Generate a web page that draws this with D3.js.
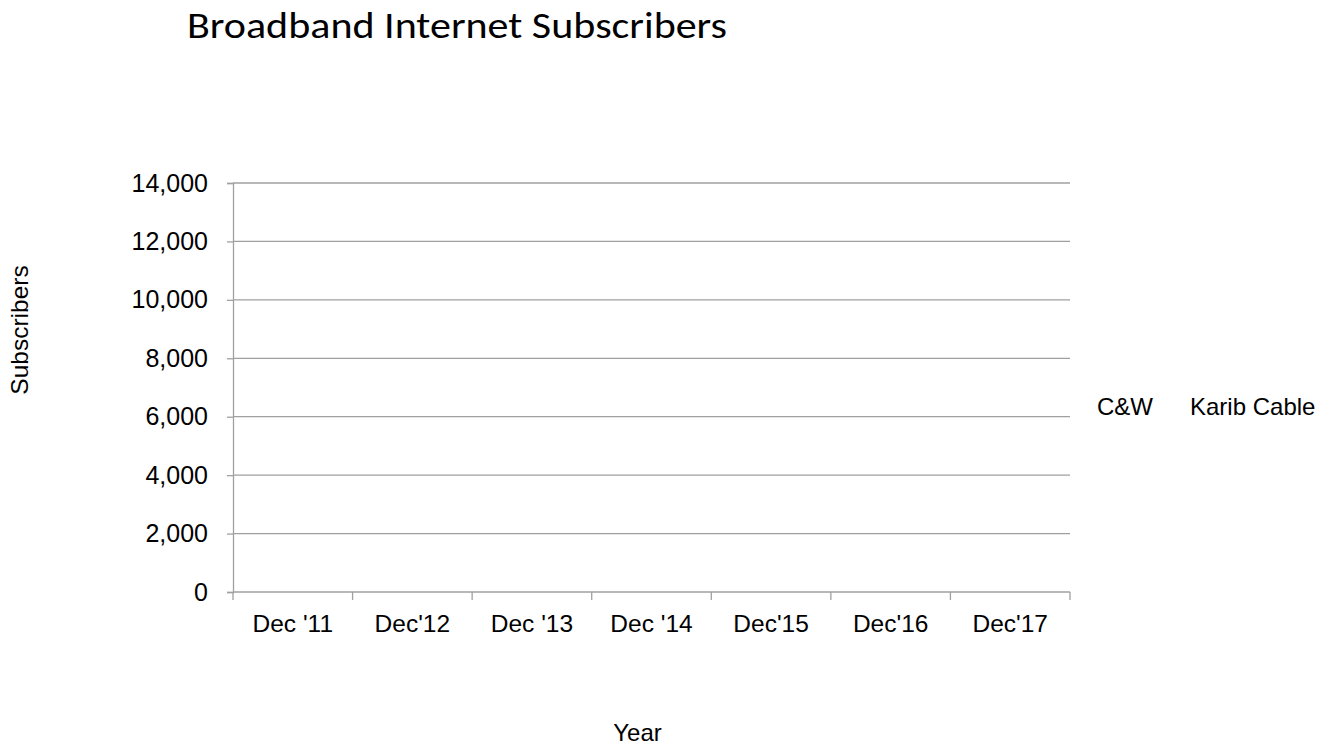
<!DOCTYPE html>
<html>
<head>
<meta charset="utf-8">
<script src="https://cdn.jsdelivr.net/npm/d3@7"></script>
<style>
  html, body { margin: 0; padding: 0; background: #fff; }
  svg { display: block; }
  text { font-family: "Liberation Sans", Arial, sans-serif; fill: #000; }
</style>
</head>
<body>
<svg id="chart" width="1324" height="748"></svg>
<script>
// ---- Data (no series values are visible in the reference) ----
const categories = ["Dec '11", "Dec'12", "Dec '13", "Dec '14", "Dec'15", "Dec'16", "Dec'17"];
const seriesNames = ["C&W", "Karib Cable"];
const cwValues = [null, null, null, null, null, null, null];
const karibValues = [null, null, null, null, null, null, null];
const yTicks = [0, 2000, 4000, 6000, 8000, 10000, 12000, 14000];

const svg = d3.select("#chart");
const margin = { left: 233, right: 1070, top: 183, bottom: 592 };

const x = d3.scaleBand().domain(categories).range([margin.left, margin.right]).padding(0);
const y = d3.scaleLinear().domain([0, 14000]).range([margin.bottom, margin.top]);
const xs = d3.scaleBand().domain(seriesNames).range([0, x.bandwidth()]).paddingInner(0.1).paddingOuter(0.6);
const colors = d3.scaleOrdinal().domain(seriesNames).range(["#4472c4", "#ed7d31"]);

const gridColor = "#a0a0a0";
const labelFont = "'Liberation Sans', Arial, sans-serif";

// Gridlines
svg.append("g")
  .selectAll("line")
  .data(yTicks.filter(d => d !== 0))
  .join("line")
  .attr("x1", margin.left).attr("x2", margin.right)
  .attr("y1", d => y(d)).attr("y2", d => y(d))
  .attr("stroke", gridColor).attr("stroke-width", 1.3);

// Y axis
const yAxis = svg.append("g")
  .attr("transform", `translate(${margin.left},0)`)
  .call(d3.axisLeft(y).tickValues(yTicks).tickSize(6).tickPadding(19).tickFormat(d3.format(",")));
yAxis.select(".domain").attr("stroke", gridColor).attr("stroke-width", 1.3);
yAxis.selectAll(".tick line").attr("stroke", gridColor).attr("stroke-width", 1.3);
yAxis.selectAll("text").style("font-size", "25px").attr("fill", "#000")
  .style("font-family", labelFont);

// X axis
const xAxis = svg.append("g")
  .attr("transform", `translate(0,${margin.bottom})`)
  .call(d3.axisBottom(x).tickSize(0).tickPadding(22.5));
xAxis.select(".domain").remove();
xAxis.selectAll("text").style("font-size", "24.5px").attr("fill", "#000")
  .style("font-family", labelFont);
svg.append("line")
  .attr("x1", margin.left).attr("x2", margin.right)
  .attr("y1", margin.bottom).attr("y2", margin.bottom)
  .attr("stroke", gridColor).attr("stroke-width", 1.3);
// boundary tick marks between categories
const boundaries = categories.map(c => x(c)).concat([x(categories[categories.length - 1]) + x.bandwidth()]);
svg.append("g").selectAll("line")
  .data(boundaries)
  .join("line")
  .attr("x1", d => d).attr("x2", d => d)
  .attr("y1", margin.bottom).attr("y2", margin.bottom + 8)
  .attr("stroke", gridColor).attr("stroke-width", 1.3);

// Bars (values absent -> nothing drawn)
const series = [cwValues, karibValues];
seriesNames.forEach((name, si) => {
  const data = categories.map((c, i) => ({ c, v: series[si][i] })).filter(d => d.v != null);
  svg.append("g").selectAll("rect")
    .data(data)
    .join("rect")
    .attr("x", d => x(d.c) + xs(name))
    .attr("width", xs.bandwidth())
    .attr("y", d => y(d.v))
    .attr("height", d => y(0) - y(d.v))
    .attr("fill", colors(name));
});

// Title
svg.append("text")
  .attr("x", 187).attr("y", 38)
  .style("font-family", "Carlito, 'Lato Light', 'Open Sans Light', Lato, 'Open Sans', sans-serif")
  .style("font-weight", "300")
  .style("font-size", "36px")
  .attr("textLength", 540)
  .attr("lengthAdjust", "spacingAndGlyphs")
  .text("Broadband Internet Subscribers");

// Axis titles
svg.append("text")
  .attr("transform", "translate(28,330) rotate(-90)")
  .attr("text-anchor", "middle")
  .style("font-size", "24.5px")
  .text("Subscribers");

svg.append("text")
  .attr("x", 637.5).attr("y", 741)
  .attr("text-anchor", "middle")
  .style("font-size", "24px")
  .text("Year");

// Legend (no visible markers in reference)
const legendX = [1097, 1190];
seriesNames.forEach((name, i) => {
  svg.append("text")
    .attr("x", legendX[i]).attr("y", 415)
    .style("font-size", "24px")
    .text(name);
});
</script>
</body>
</html>
